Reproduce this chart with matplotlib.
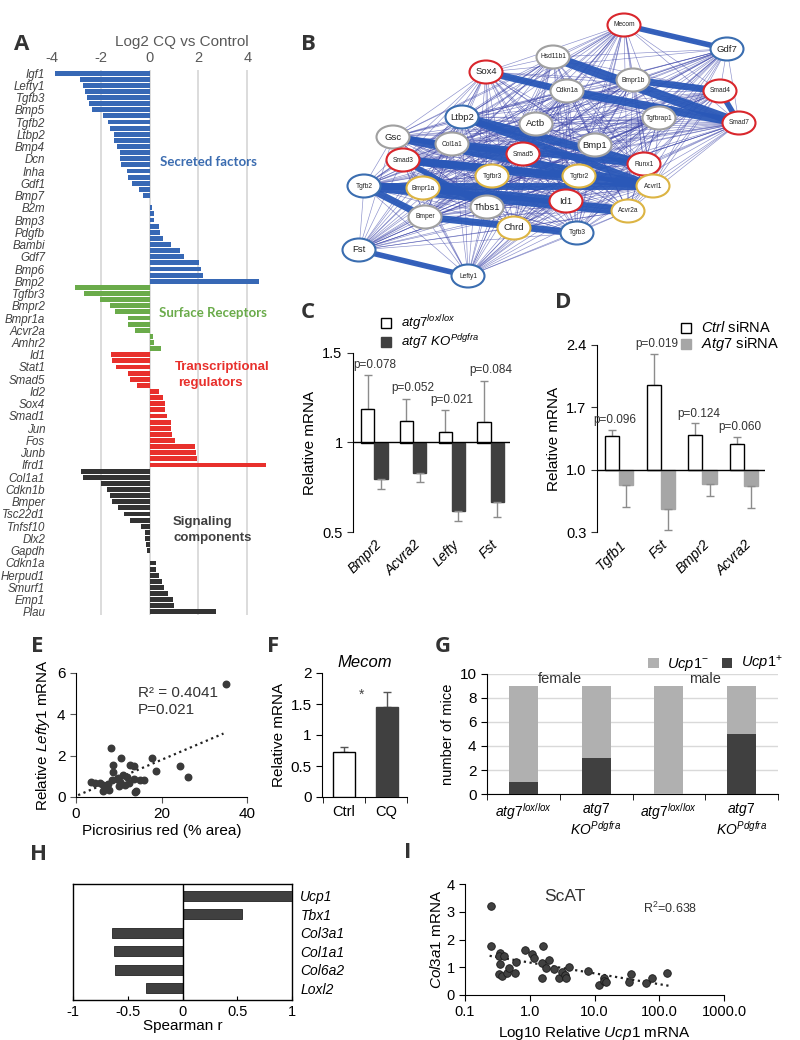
import numpy as np
import matplotlib
matplotlib.use('Agg')
import matplotlib.pyplot as plt
from matplotlib.patches import Ellipse, Patch, Rectangle

plt.rcParams['font.family'] = ['Liberation Sans', 'DejaVu Sans']
plt.rcParams['mathtext.fontset'] = 'custom'
plt.rcParams['mathtext.rm'] = 'Liberation Sans'
plt.rcParams['mathtext.it'] = 'Liberation Sans:italic'
plt.rcParams['mathtext.bf'] = 'Liberation Sans:bold'
plt.rcParams['axes.unicode_minus'] = False

W, H = 800, 1040

# ---- A: log2 CQ vs control ----
secreted_vals = [-3.86, -2.84, -2.73, -2.64, -2.58, -2.48, -2.35, -1.93, -1.69, -1.62,
                 -1.47, -1.46, -1.32, -1.22, -1.21, -1.16, -0.93, -0.90, -0.72, -0.42,
                 -0.26, 0.03, 0.08, 0.16, 0.18, 0.37, 0.44, 0.53, 0.88, 1.24,
                 1.43, 2.04, 2.11, 2.19, 4.50]
secreted_names = ['Igf1', 'Lefty1', 'Tgfb3', 'Bmp5', 'Tgfb2', 'Ltbp2', 'Bmp4', 'Dcn', 'Inha',
                  'Gdf1', 'Bmp7', 'B2m', 'Bmp3', 'Pdgfb', 'Bambi', 'Gdf7', 'Bmp6', 'Bmp2']
receptor_vals = [-3.06, -2.68, -2.03, -1.62, -1.43, -0.90, -0.87, -0.61, 0.12, 0.20, 0.45]
receptor_names = ['Tgfbr3', 'Bmpr2', 'Bmpr1a', 'Acvr2a', 'Amhr2']
regulator_vals = [-1.58, -1.54, -1.37, -0.90, -0.82, -0.50, 0.39, 0.53, 0.64, 0.65,
                  0.73, 0.87, 0.88, 0.91, 1.03, 1.88, 1.90, 1.93, 4.78]
regulator_names = ['Id1', 'Stat1', 'Smad5', 'Id2', 'Sox4', 'Smad1', 'Jun', 'Fos', 'Junb', 'Ifrd1']
signaling_vals = [-2.80, -2.71, -2.00, -1.76, -1.62, -1.55, -1.29, -1.03, -0.79, -0.37,
                  -0.20, -0.18, -0.16, -0.10, 0.02, 0.26, 0.27, 0.37, 0.52, 0.60,
                  0.75, 0.94, 1.02, 2.73]
signaling_names = ['Col1a1', 'Cdkn1b', 'Bmper', 'Tsc22d1', 'Tnfsf10', 'Dlx2', 'Gapdh',
                   'Cdkn1a', 'Herpud1', 'Smurf1', 'Emp1', 'Plau']

# ---- B: network ----
net_red = ['Mecom', 'Sox4', 'Smad4', 'Smad7', 'Smad5', 'Smad3', 'Runx1', 'Id1']
net_blue = ['Gdf7', 'Ltbp2', 'Tgfb2', 'Tgfb3', 'Fst', 'Lefty1']
net_gold = ['Tgfbr3', 'Tgfbr2', 'Bmpr1a', 'Acvrl1', 'Acvr2a', 'Chrd']
net_gray = ['Hsd11b1', 'Bmpr1b', 'Cdkn1a', 'Actb', 'Tgfbrap1', 'Gsc', 'Col1a1', 'Bmp1',
            'Thbs1', 'Bmper']
net_strong = [('Mecom', 'Gdf7', 4), ('Hsd11b1', 'Smad7', 7), ('Sox4', 'Cdkn1a', 5),
              ('Cdkn1a', 'Smad7', 6), ('Bmpr1b', 'Smad4', 5), ('Smad4', 'Smad7', 4),
              ('Ltbp2', 'Runx1', 6), ('Ltbp2', 'Acvrl1', 5), ('Gsc', 'Acvrl1', 6),
              ('Smad3', 'Acvrl1', 6), ('Col1a1', 'Runx1', 5), ('Tgfb2', 'Acvr2a', 7),
              ('Tgfb2', 'Bmper', 5), ('Bmper', 'Tgfb3', 5), ('Bmpr1a', 'Id1', 6),
              ('Smad3', 'Tgfbr2', 5), ('Tgfb2', 'Acvrl1', 5), ('Fst', 'Lefty1', 4),
              ('Gsc', 'Smad5', 4), ('Smad3', 'Thbs1', 4)]
# node layout (pixel coordinates of the drawing)
net_layout = {'Mecom': (624, 25), 'Gdf7': (727, 49), 'Hsd11b1': (553, 57), 'Sox4': (486, 72),
              'Bmpr1b': (633, 80), 'Smad4': (720, 91), 'Cdkn1a': (567, 91), 'Ltbp2': (462, 117),
              'Actb': (536, 124), 'Tgfbrap1': (659, 118), 'Smad7': (739, 123), 'Gsc': (393, 137),
              'Col1a1': (452, 144), 'Bmp1': (595, 145), 'Smad5': (523, 154), 'Smad3': (403, 160),
              'Runx1': (644, 164), 'Tgfbr3': (492, 176), 'Tgfbr2': (579, 176), 'Tgfb2': (364, 186),
              'Bmpr1a': (423, 188), 'Acvrl1': (653, 186), 'Thbs1': (487, 207), 'Id1': (566, 201),
              'Acvr2a': (628, 211), 'Bmper': (425, 217), 'Chrd': (514, 228), 'Tgfb3': (577, 233),
              'Fst': (359, 250), 'Lefty1': (468, 276)}

# ---- C ----
c_genes = ['Bmpr2', 'Acvra2', 'Lefty', 'Fst']
c_ctrl = [1.187, 1.119, 1.058, 1.116]
c_ctrl_err = [0.19, 0.125, 0.121, 0.229]
c_ko = [0.797, 0.830, 0.618, 0.666]
c_ko_err = [0.058, 0.052, 0.055, 0.082]
c_p = ['p=0.078', 'p=0.052', 'p=0.021', 'p=0.084']

# ---- D ----
d_genes = ['Tgfb1', 'Fst', 'Bmpr2', 'Acvra2']
d_ctrl = [1.38, 1.95, 1.39, 1.285]
d_ctrl_err = [0.07, 0.35, 0.13, 0.085]
d_si = [0.824, 0.558, 0.835, 0.82]
d_si_err = [0.244, 0.236, 0.131, 0.247]
d_p = ['p=0.096', 'p=0.019', 'p=0.124', 'p=0.060']

# ---- E ----
e_picro = [35.0, 8.2, 10.5, 17.7, 8.7, 12.6, 13.6, 24.3, 18.7, 8.7, 26.3, 11.0, 12.0, 9.5,
           10.3, 13.5, 15.0, 16.0, 4.5, 5.5, 6.3, 7.0, 7.5, 8.5, 9.8, 11.5, 12.5, 14.0,
           6.3, 13.8, 3.5, 10.0, 7.8]
e_lefty = [5.48, 2.38, 1.90, 1.87, 1.54, 1.56, 1.51, 1.49, 1.27, 1.22, 0.95, 1.05, 0.95,
           0.85, 0.75, 0.85, 0.82, 0.82, 0.70, 0.70, 0.60, 0.50, 0.65, 0.80, 0.90, 0.60,
           0.70, 0.30, 0.30, 0.25, 0.75, 0.55, 0.35]
e_fit = (0.0877, 0.045)

# ---- F ----
f_groups = ['Ctrl', 'CQ']
f_vals = [0.73, 1.45]
f_err = [0.08, 0.25]

# ---- G ----
g_groups = [r'$\it{atg7}^{\it{lox/lox}}$', '$\\it{atg7}$\n$\\it{KO}^{\\it{Pdgfra}}$',
            r'$\it{atg7}^{\it{lox/lox}}$', '$\\it{atg7}$\n$\\it{KO}^{\\it{Pdgfra}}$']
g_pos = [1, 3, 0, 5]
g_neg = [8, 6, 9, 4]

# ---- H ----
h_genes = ['Ucp1', 'Tbx1', 'Col3a1', 'Col1a1', 'Col6a2', 'Loxl2']
h_r = [1.0, 0.54, -0.645, -0.624, -0.615, -0.33]

# ---- I ----
i_ucp1 = [0.248, 0.248, 0.345, 0.33, 0.40, 0.35, 0.33, 0.37, 0.45, 0.47, 0.62, 0.60, 0.83,
          1.1, 1.15, 1.6, 1.57, 1.55, 1.77, 1.96, 2.37, 2.86, 3.13, 3.48, 3.57, 3.98, 7.8,
          11.7, 14.2, 14.2, 15.0, 33.7, 36.6, 62.4, 76, 134]
i_col3a1 = [3.22, 1.78, 1.51, 1.42, 1.39, 1.11, 0.75, 0.70, 0.81, 0.96, 1.20, 0.78, 1.63,
            1.46, 1.33, 1.78, 1.14, 0.63, 0.99, 1.27, 0.94, 0.60, 0.84, 0.72, 0.60, 1.02,
            0.87, 0.37, 0.63, 0.51, 0.48, 0.48, 0.75, 0.45, 0.63, 0.81]
i_fit = (1.17, -0.39)


def add_ax(fig, left, top, right, bottom):
    return fig.add_axes([left / W, 1 - bottom / H, (right - left) / W, (bottom - top) / H])


def fig_xy(x, y):
    return x / W, 1 - y / H


def letter(fig, x, y, s):
    fig.text(*fig_xy(x, y), s, fontsize=16, fontweight='bold', family='Open Sans',
             color='#333333', ha='center', va='center')


def legend_row(fig, x, y, face, edge, label, size=10):
    # small square marker + text, placed in pixel coordinates
    sq = 10
    fig.add_artist(Rectangle(fig_xy(x - sq / 2, y + sq / 2), sq / W, sq / H,
                             facecolor=face, edgecolor=edge, lw=1,
                             transform=fig.transFigure))
    fig.text(*fig_xy(x + 15, y), label, fontsize=size, va='center', ha='left')


def main():
    fig = plt.figure(figsize=(8, 10.4), dpi=100)

    # ---------------- A ----------------
    ax = add_ax(fig, 52, 70, 271.6, 615)
    vals = secreted_vals + receptor_vals + regulator_vals + signaling_vals
    cols = (['#3768b5'] * len(secreted_vals) + ['#6aab4a'] * len(receptor_vals)
            + ['#e8302c'] * len(regulator_vals) + ['#333333'] * len(signaling_vals))
    ypos = np.arange(len(vals))
    ax.barh(ypos, vals, height=0.8, color=cols, zorder=3)
    ax.set_ylim(len(vals) - 0.5, -0.5)
    ax.set_xlim(-4, 5)
    ax.set_yticks(ypos[::2])
    ax.set_yticklabels(secreted_names + receptor_names + regulator_names + signaling_names,
                       fontstyle='italic', color='#404040')
    ax.set_xticks([-4, -2, 0, 2, 4])
    ax.xaxis.tick_top()
    ax.tick_params(axis='x', length=0, labelsize=10.5, labelcolor='#595959')
    ax.tick_params(axis='y', length=0, labelsize=8.3, pad=5)
    ax.grid(axis='x', color='#d9d9d9', lw=1.3, zorder=0)
    ax.get_xgridlines()[0].set_visible(False)
    for s in ax.spines.values():
        s.set_visible(False)
    fig.text(*fig_xy(182, 42), 'Log2 CQ vs Control', fontsize=11, color='#595959',
             ha='center', va='center')
    fig.text(*fig_xy(160, 162), 'Secreted factors', family='Lato', fontweight='bold',
             fontsize=9.5, color='#3b6cb0', va='center')
    fig.text(*fig_xy(159, 313), 'Surface Receptors', family='Lato', fontweight='bold',
             fontsize=9.5, color='#6aab4a', va='center')
    fig.text(*fig_xy(222, 367), 'Transcriptional', fontweight='bold',
             fontsize=9.5, color='#e8302c', va='center', ha='center')
    fig.text(*fig_xy(178, 383), 'regulators', fontweight='bold',
             fontsize=9.5, color='#e8302c', va='center')
    fig.text(*fig_xy(173, 522), 'Signaling', fontweight='bold',
             fontsize=9.5, color='#404040', va='center')
    fig.text(*fig_xy(173, 538), 'components', fontweight='bold',
             fontsize=9.5, color='#404040', va='center')
    letter(fig, 22, 45, 'A')

    # ---------------- B ----------------
    ax = add_ax(fig, 290, 0, 800, 300)
    ax.set_xlim(290, 800)
    ax.set_ylim(300, 0)
    ax.axis('off')
    names = list(net_layout.keys())
    for i in range(len(names)):
        for j in range(i + 1, len(names)):
            (x1, y1), (x2, y2) = net_layout[names[i]], net_layout[names[j]]
            ax.plot([x1, x2], [y1, y2], color='#3a42a8', lw=0.45, alpha=0.6, zorder=1)
    for a, b, w in net_strong:
        (x1, y1), (x2, y2) = net_layout[a], net_layout[b]
        ax.plot([x1, x2], [y1, y2], color='#2a58b8', lw=w, alpha=0.95, zorder=2,
                solid_capstyle='round')
    edge_col = {}
    for n in net_red:
        edge_col[n] = '#d9262c'
    for n in net_blue:
        edge_col[n] = '#3a6db0'
    for n in net_gold:
        edge_col[n] = '#dcb443'
    for n in net_gray:
        edge_col[n] = '#a0a0a0'
    small = {'Hsd11b1', 'Tgfbrap1', 'Mecom', 'Smad4', 'Smad7', 'Bmpr1b', 'Cdkn1a', 'Col1a1',
             'Smad3', 'Smad5', 'Runx1', 'Tgfbr3', 'Tgfbr2', 'Bmpr1a', 'Acvrl1', 'Acvr2a',
             'Bmper', 'Lefty1', 'Tgfb2', 'Tgfb3'}
    for n, (x, y) in net_layout.items():
        ax.add_patch(Ellipse((x, y), 33, 23, facecolor='white', edgecolor=edge_col[n],
                             lw=1.5, zorder=3))
        ax.text(x, y, n, fontsize=4.8 if n in small else 6.8, ha='center', va='center',
                zorder=4, color='#222222')
    letter(fig, 308, 45, 'B')

    # ---------------- C ----------------
    ax = add_ax(fig, 353, 353, 510, 532)
    x = np.arange(len(c_genes))
    bw = 0.34
    ctrl = np.array(c_ctrl)
    ko = np.array(c_ko)
    ax.bar(x - bw / 2, ctrl - 1, bottom=1, width=bw, color='white', edgecolor='black',
           lw=1, zorder=3)
    ax.bar(x + bw / 2, ko - 1, bottom=1, width=bw, color='#404040', edgecolor='#404040',
           lw=1, zorder=3)
    ax.errorbar(x - bw / 2, ctrl, yerr=[np.zeros(4), c_ctrl_err], fmt='none',
                ecolor='#8c8c8c', capsize=3, lw=1, zorder=2)
    ax.errorbar(x + bw / 2, ko, yerr=[c_ko_err, np.zeros(4)], fmt='none',
                ecolor='#8c8c8c', capsize=3, lw=1, zorder=4)
    for i in range(len(c_genes)):
        ax.text(x[i], ctrl[i] + c_ctrl_err[i] + 0.025, c_p[i], ha='center', va='bottom',
                fontsize=8.5, color='#333333')
    ax.axhline(1, color='black', lw=1, zorder=5)
    ax.set_xlim(-0.55, 3.5)
    ax.set_ylim(0.5, 1.5)
    ax.set_yticks([0.5, 1, 1.5])
    ax.set_yticklabels(['0.5', '1', '1.5'])
    ax.set_xticks(x)
    ax.set_xticklabels(c_genes, rotation=45, ha='right', rotation_mode='anchor',
                       fontstyle='italic', fontsize=10)
    ax.tick_params(axis='x', length=0, pad=4)
    ax.tick_params(axis='y', labelsize=10.5, length=4, color='#333333')
    for s in ['top', 'right', 'bottom']:
        ax.spines[s].set_visible(False)
    ax.set_ylabel('Relative mRNA', fontsize=11, labelpad=4)
    legend_row(fig, 386, 323, 'white', 'black', r'$\it{atg7}^{\it{lox/lox}}$', 9.5)
    legend_row(fig, 386, 342, '#404040', '#404040', r'$\it{atg7\ KO}^{\it{Pdgfra}}$', 9.5)
    letter(fig, 308, 312, 'C')

    # ---------------- D ----------------
    ax = add_ax(fig, 597, 345, 765, 532)
    x = np.arange(len(d_genes))
    ctrl = np.array(d_ctrl)
    si = np.array(d_si)
    ax.bar(x - bw / 2, ctrl - 1, bottom=1, width=bw, color='white', edgecolor='black',
           lw=1, zorder=3)
    ax.bar(x + bw / 2, si - 1, bottom=1, width=bw, color='#a6a6a6', edgecolor='#a6a6a6',
           lw=1, zorder=3)
    ax.errorbar(x - bw / 2, ctrl, yerr=[np.zeros(4), d_ctrl_err], fmt='none',
                ecolor='#8c8c8c', capsize=3, lw=1, zorder=2)
    ax.errorbar(x + bw / 2, si, yerr=[d_si_err, np.zeros(4)], fmt='none',
                ecolor='#8c8c8c', capsize=3, lw=1, zorder=4)
    for i in range(len(d_genes)):
        ax.text(x[i] - 0.1, ctrl[i] + d_ctrl_err[i] + 0.04, d_p[i], ha='center', va='bottom',
                fontsize=8.5, color='#333333')
    ax.axhline(1, color='black', lw=1, zorder=5)
    ax.set_xlim(-0.53, 3.5)
    ax.set_ylim(0.3, 2.4)
    ax.set_yticks([0.3, 1.0, 1.7, 2.4])
    ax.set_yticklabels(['0.3', '1.0', '1.7', '2.4'])
    ax.set_xticks(x)
    ax.set_xticklabels(d_genes, rotation=45, ha='right', rotation_mode='anchor',
                       fontstyle='italic', fontsize=10)
    ax.tick_params(axis='x', length=0, pad=4)
    ax.tick_params(axis='y', labelsize=10.5, length=4, color='#333333')
    for s in ['top', 'right', 'bottom']:
        ax.spines[s].set_visible(False)
    ax.set_ylabel('Relative mRNA', fontsize=11, labelpad=4)
    legend_row(fig, 686, 328, 'white', 'black', r'$\it{Ctrl}$ siRNA', 10.5)
    legend_row(fig, 686, 344, '#a6a6a6', '#a6a6a6', r'$\it{Atg7}$ siRNA', 10.5)
    letter(fig, 563, 302, 'D')

    # ---------------- E ----------------
    ax = add_ax(fig, 76, 673, 247, 797)
    ax.scatter(e_picro, e_lefty, s=22, color='#3a3a3a', zorder=3)
    xx = np.array([0.5, 34.5])
    ax.plot(xx, e_fit[0] * xx + e_fit[1], ls=(0, (1, 1.6)), color='#222222', lw=1.6)
    ax.set_xlim(0, 40)
    ax.set_ylim(0, 6)
    ax.set_xticks([0, 20, 40])
    ax.set_yticks([0, 2, 4, 6])
    ax.tick_params(labelsize=11, length=4, color='#555555')
    for s in ['top', 'right']:
        ax.spines[s].set_visible(False)
    ax.set_xlabel('Picrosirius red (% area)', fontsize=11, labelpad=2)
    ax.set_ylabel(r'Relative $\it{Lefty1}$ mRNA', fontsize=11, labelpad=4)
    ax.text(0.36, 0.77, 'R² = 0.4041\nP=0.021', transform=ax.transAxes, fontsize=11,
            color='#333333', linespacing=1.25, va='center')
    letter(fig, 37, 646, 'E')

    # ---------------- F ----------------
    ax = add_ax(fig, 322, 673, 407, 797)
    xf = np.arange(len(f_groups))
    ax.bar(xf, f_vals, width=0.52, color=['white', '#404040'], edgecolor=['black', '#404040'],
           lw=1, zorder=3)
    ax.errorbar(xf, f_vals, yerr=[[0, 0], f_err], fmt='none', ecolor='#555555', capsize=3,
                lw=1, zorder=2)
    ax.text(0.4, 1.65, '*', ha='center', va='center', fontsize=10, color='#444444')
    ax.set_xlim(-0.52, 1.48)
    ax.set_ylim(0, 2)
    ax.set_yticks([0, 0.5, 1, 1.5, 2])
    ax.set_yticklabels(['0', '0.5', '1', '1.5', '2'])
    ax.set_xticks(xf)
    ax.set_xticklabels(f_groups, fontsize=10.5)
    ax.set_xticks([-0.5, 0.5, 1.48], minor=True)
    ax.tick_params(axis='x', which='major', length=0, pad=6)
    ax.tick_params(axis='x', which='minor', length=4)
    ax.tick_params(axis='y', labelsize=11, length=4)
    for s in ['top', 'right']:
        ax.spines[s].set_visible(False)
    ax.set_ylabel('Relative mRNA', fontsize=11, labelpad=3)
    ax.set_title('Mecom', fontstyle='italic', fontsize=12, pad=4, x=0.5)
    letter(fig, 273, 646, 'F')

    # ---------------- G ----------------
    ax = add_ax(fig, 487, 674, 778, 794)
    xg = np.arange(len(g_groups))
    ax.bar(xg, g_pos, width=0.4, color='#404040', zorder=3)
    ax.bar(xg, g_neg, width=0.4, bottom=g_pos, color='#b0b0b0', zorder=3)
    ax.set_xlim(-0.5, 3.5)
    ax.set_ylim(0, 10)
    ax.set_yticks(range(0, 11, 2))
    ax.grid(axis='y', color='#d9d9d9', lw=1, zorder=0)
    ax.set_xticks(xg)
    ax.set_xticklabels(g_groups, fontsize=10, linespacing=1.1)
    ax.set_xticks([-0.5, 0.5, 1.5, 2.5, 3.5], minor=True)
    ax.tick_params(axis='x', which='major', length=0, pad=5)
    ax.tick_params(axis='x', which='minor', length=4)
    ax.tick_params(axis='y', labelsize=11, length=4)
    for s in ['top', 'right']:
        ax.spines[s].set_visible(False)
    ax.set_ylabel('number of mice', fontsize=10.5, labelpad=3)
    ax.text(0.5, 9.6, 'female', ha='center', va='center', fontsize=10.5, color='#333333')
    ax.text(2.5, 9.6, 'male', ha='center', va='center', fontsize=10.5, color='#333333')
    fig.legend([Patch(facecolor='#b0b0b0'), Patch(facecolor='#404040')],
               [r'$\it{Ucp1}^{-}$', r'$\it{Ucp1}^{+}$'], ncol=2,
               loc='upper left', bbox_to_anchor=fig_xy(641, 647), frameon=False,
               fontsize=10.5, handlelength=0.7, handleheight=0.7, columnspacing=0.9,
               borderpad=0, handletextpad=0.6)
    letter(fig, 443, 646, 'G')

    # ---------------- H ----------------
    ax = add_ax(fig, 73, 884, 292, 1000)
    yh = np.arange(len(h_genes))
    ax.barh(yh, h_r, height=0.55, color='#404040', edgecolor='#222222', lw=0.6, zorder=3)
    ax.axvline(0, color='black', lw=1, zorder=4)
    ax.set_xlim(-1, 1)
    ax.set_ylim(len(h_genes) - 0.35, -0.65)
    ax.set_yticks(yh)
    ax.set_yticklabels(h_genes, fontstyle='italic', fontsize=10)
    ax.yaxis.tick_right()
    ax.tick_params(axis='y', length=0, pad=6)
    ax.set_xticks([-1, -0.5, 0, 0.5, 1])
    ax.set_xticklabels(['-1', '-0.5', '0', '0.5', '1'])
    ax.tick_params(axis='x', labelsize=10.5, length=3, direction='in')
    for s in ax.spines.values():
        s.set_linewidth(1)
    ax.set_xlabel('Spearman r', fontsize=11, labelpad=0)
    letter(fig, 38, 855, 'H')

    # ---------------- I ----------------
    ax = add_ax(fig, 465, 884, 724, 995)
    ax.scatter(i_ucp1, i_col3a1, s=30, color='#404040', edgecolor='#1a1a1a', lw=0.6, zorder=3)
    xi = np.array([0.24, 142])
    ax.plot(xi, i_fit[0] + i_fit[1] * np.log10(xi), ls=(0, (1, 1.6)), color='#222222', lw=1.6)
    ax.set_xscale('log')
    ax.set_xlim(0.1, 1000)
    ax.set_ylim(0, 4)
    ax.set_xticks([0.1, 1, 10, 100, 1000])
    ax.set_xticklabels(['0.1', '1.0', '10.0', '100.0', '1000.0'])
    ax.xaxis.set_minor_locator(matplotlib.ticker.NullLocator())
    ax.set_yticks([0, 1, 2, 3, 4])
    ax.tick_params(labelsize=10.5, length=4)
    for s in ['top', 'right']:
        ax.spines[s].set_visible(False)
    ax.set_xlabel(r'Log10 Relative $\it{Ucp1}$ mRNA', fontsize=11, labelpad=3)
    ax.set_ylabel(r'$\it{Col3a1}$ mRNA', fontsize=11, labelpad=2)
    ax.text(3.5, 3.55, 'ScAT', ha='center', va='center', fontsize=12.5, color='#333333')
    ax.text(56, 3.12, 'R$^2$=0.638', ha='left', va='center', fontsize=9, color='#333333')
    letter(fig, 408, 852, 'I')

    fig.savefig('out.png', dpi=100, facecolor='white')


if __name__ == '__main__':
    main()
